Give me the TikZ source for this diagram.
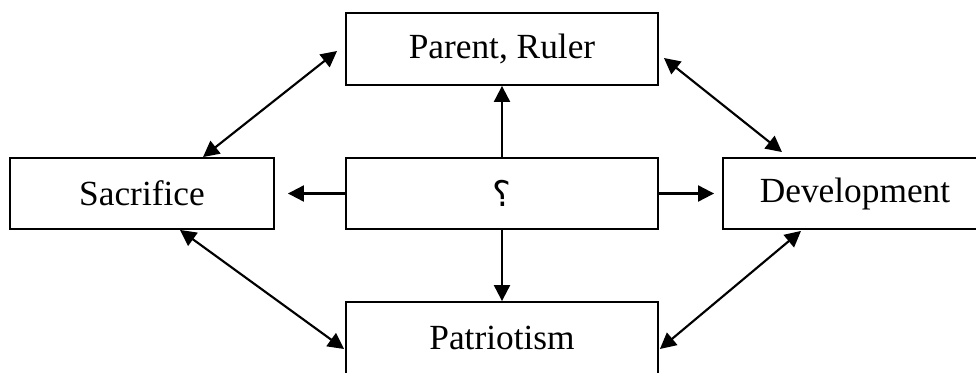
\documentclass[tikz,border=0pt]{standalone}
\usepackage{fontspec}
\setmainfont{Liberation Serif}
\newfontfamily\arabicfont[Script=Arabic]{DejaVu Sans}
\TeXXeTstate=1
\usetikzlibrary{arrows.meta,calc}
\begin{document}
\begin{tikzpicture}[x=0.75pt,y=-0.75pt,
  box/.style={draw,line width=1.4pt,rectangle,inner sep=0pt,font=\fontsize{26.5}{31}\selectfont},
  conn/.style={line width=1.6pt,-{Triangle[length=12pt,width=12pt]}},
  dconn/.style={line width=1.6pt,{Triangle[length=12pt,width=12pt]}-{Triangle[length=12pt,width=12pt]}}]
\useasboundingbox (0,0) rectangle (976,372);
\begin{scope}
\clip (0,0) rectangle (976,372);
\node[box,minimum width=198pt,minimum height=53.25pt] (sac) at (142,193.5) {Sacrifice};
\node[box,minimum width=234pt,minimum height=54pt] (par) at (502,49) {Parent, Ruler};
\node[box,minimum width=234pt,minimum height=53.25pt] (cen) at (502,193.5) {\arabicfont\beginR ؟\endR};
\node[box,minimum width=234pt,minimum height=54pt] (pat) at (502,338) {Patriotism};
\node[box,minimum width=198pt,minimum height=53.25pt] (dev) at (855,193.5) {Development};
\end{scope}
\draw[conn] (cen.north) -- (par.south);
\draw[conn] (cen.south) -- (pat.north);
\coordinate (lt) at ($(sac.east)+(13,0)$);
\coordinate (rt) at ($(dev.west)+(-8,0)$);
\draw[conn] (cen.west) -- (lt);
\draw[conn] (cen.east) -- (rt);
\draw[dconn] ($(sac.north)+(61,0)$) -- ($(par.west)+(-8,2)$);
\draw[dconn] ($(sac.south)+(38,0)$) -- ($(pat.west)+(-1,11)$);
\draw[dconn] ($(par.east)+(5,9)$) -- ($(dev.north)+(-73,-5)$);
\draw[dconn] ($(dev.south)+(-54,1)$) -- ($(pat.east)+(1,11)$);
\end{tikzpicture}
\end{document}
